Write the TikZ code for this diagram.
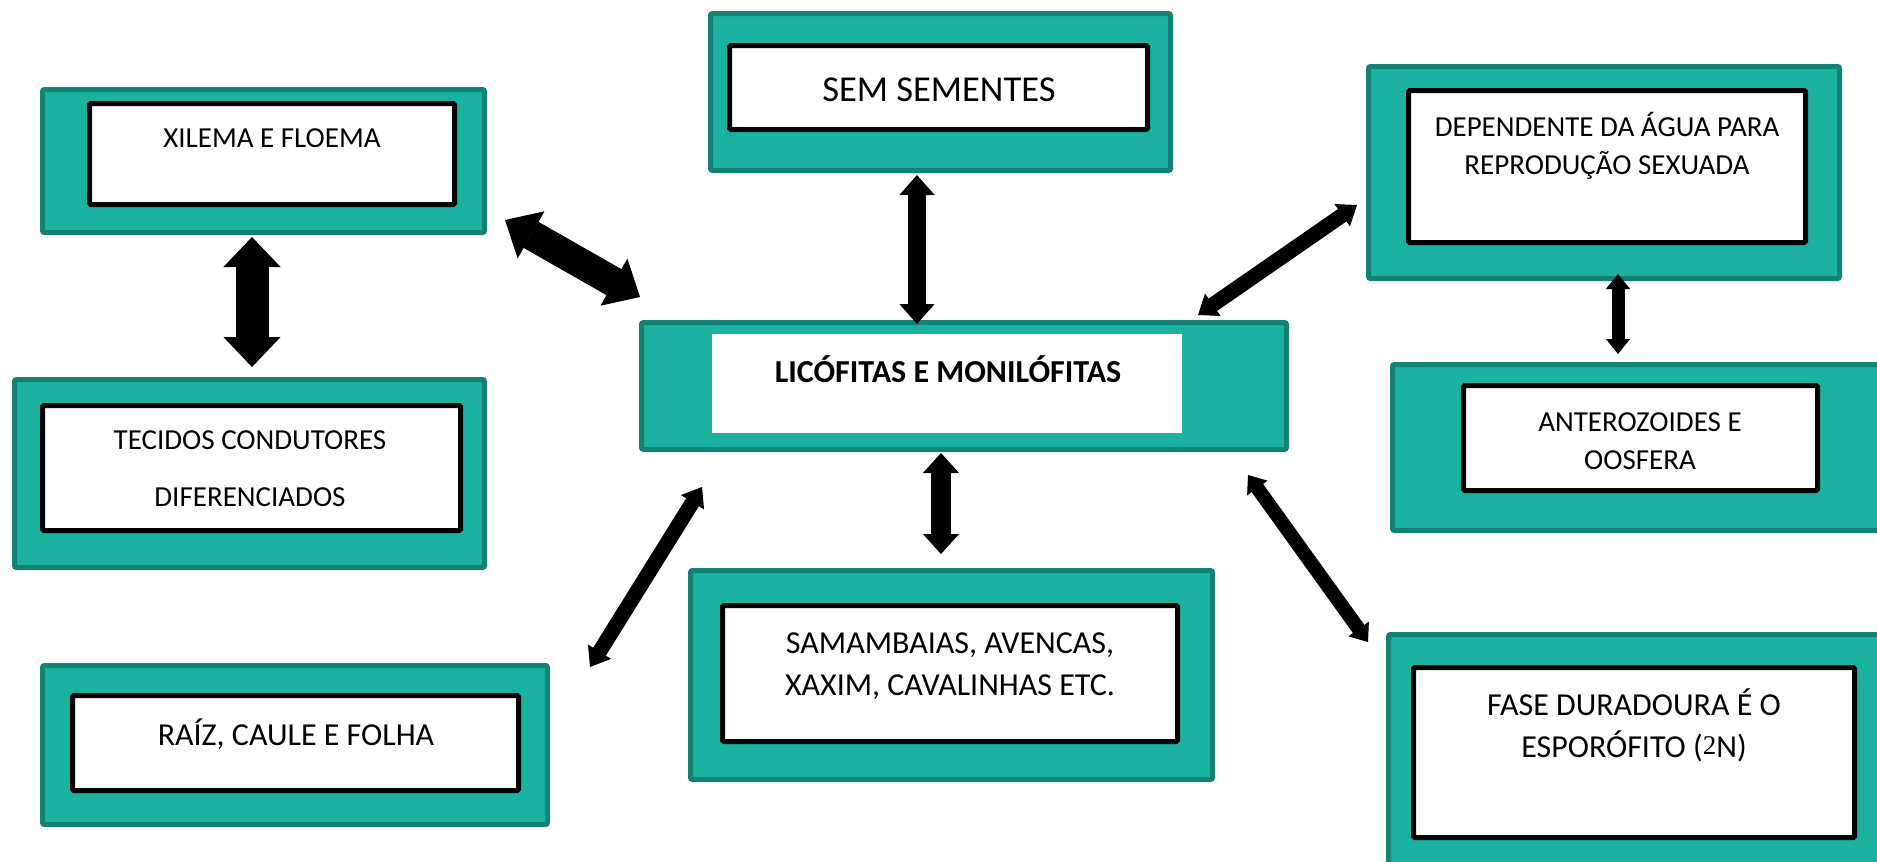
\documentclass[tikz,border=0pt]{standalone}
\usepackage{fontspec}
\setmainfont{Carlito}
\newfontfamily\serfont{Liberation Serif}
\usetikzlibrary{arrows.meta}
\definecolor{tealfill}{RGB}{27,179,159}
\definecolor{tealedge}{RGB}{20,130,115}
\tikzset{
  outerbox/.style={draw=tealedge, fill=tealfill, line width=5pt, rounded corners=2pt, inner sep=0pt},
  innerbox/.style={draw=black, fill=white, line width=5pt, rounded corners=1.5pt, inner sep=0pt},
  plainbox/.style={fill=white, inner sep=0pt},
  txt/.style={anchor=base, inner sep=0pt, font=\fontsize{29}{34}\selectfont},
  txtb/.style={anchor=base, inner sep=0pt, font=\fontsize{32}{38}\selectfont},
  conn/.style n args={3}{line width=#1, arrows={Triangle[width=#2,length=#3,line width=1pt]-Triangle[width=#2,length=#3,line width=1pt]}}
}
\begin{document}
\begin{tikzpicture}[x=1pt,y=-1pt]
\clip (0,0) rectangle (1877,862);
\fill[white] (0,0) rectangle (1877,862);

% XILEMA E FLOEMA
\node[outerbox, minimum width=442pt, minimum height=143pt] (xilO) at (263.5,161) {};
\node[innerbox, minimum width=365pt, minimum height=101pt] (xilI) at (272,154) {};
\node[txt] (xilT) at (272,147.3) {XILEMA E FLOEMA};

% TECIDOS CONDUTORES
\node[outerbox, minimum width=470pt, minimum height=188pt] (tecO) at (249.5,473.5) {};
\node[innerbox, minimum width=418pt, minimum height=125pt] (tecI) at (251.5,468) {};
\node[txt] (tecT1) at (250,449.3) {TECIDOS CONDUTORES};
\node[txt] (tecT2) at (250,506.3) {DIFERENCIADOS};

% RAIZ
\node[outerbox, minimum width=505pt, minimum height=159pt] (raiO) at (295,745) {};
\node[innerbox, minimum width=446pt, minimum height=95pt] (raiI) at (295.5,743) {};
\node[txtb] (raiT) at (296,745.3) {RAÍZ, CAULE E FOLHA};

% SEM SEMENTES
\node[outerbox, minimum width=460pt, minimum height=157pt] (semO) at (940.5,92) {};
\node[innerbox, minimum width=418pt, minimum height=84pt] (semI) at (938.5,87.5) {};
\node[anchor=base, inner sep=0pt, font=\fontsize{36.5}{42}\selectfont] (semT) at (939,101.8) {SEM SEMENTES};

% Central
\node[outerbox, minimum width=645pt, minimum height=127pt] (cenO) at (964,386) {};
\node[plainbox, minimum width=470pt, minimum height=99pt] (cenI) at (947,383.5) {};
\node[txtb, font=\fontsize{32}{38}\selectfont\bfseries] (cenT) at (948,382.3) {LICÓFITAS E MONILÓFITAS};

% SAMAMBAIAS
\node[outerbox, minimum width=522pt, minimum height=209pt] (samO) at (951.5,675) {};
\node[innerbox, minimum width=455pt, minimum height=136pt] (samI) at (950,673.5) {};
\node[txtb] (samT1) at (950,653.3) {SAMAMBAIAS, AVENCAS,};
\node[txtb] (samT2) at (950,695.3) {XAXIM, CAVALINHAS ETC.};

% DEPENDENTE
\node[outerbox, minimum width=471pt, minimum height=212pt] (depO) at (1604,172.5) {};
\node[innerbox, minimum width=397pt, minimum height=152pt] (depI) at (1607,166.5) {};
\node[txt] (depT1) at (1607,136.3) {DEPENDENTE DA ÁGUA PARA};
\node[txt] (depT2) at (1607,174.3) {REPRODUÇÃO SEXUADA};

% ANTEROZOIDES
\node[outerbox, minimum width=487pt, minimum height=166pt] (antO) at (1636,447.5) {};
\node[innerbox, minimum width=354pt, minimum height=105pt] (antI) at (1640.5,438) {};
\node[txt] (antT1) at (1640,431.3) {ANTEROZOIDES E};
\node[txt] (antT2) at (1640,469.3) {OOSFERA};

% FASE DURADOURA
\node[outerbox, minimum width=491pt, minimum height=238pt] (fasO) at (1634,753.5) {};
\node[innerbox, minimum width=441pt, minimum height=170pt] (fasI) at (1634,752.5) {};
\node[txtb] (fasT1) at (1634,715.3) {FASE DURADOURA É O};
\node[txtb] (fasT2) at (1634,757.3) {ESPORÓFITO ({\serfont\raisebox{3pt}{\fontsize{27}{30}\selectfont 2}}N)};

% connectors
\coordinate (a1s) at (252,237);  \coordinate (a1e) at (252,367);
\coordinate (a2s) at (505,220);  \coordinate (a2e) at (640,297);
\coordinate (a3s) at (917,175);  \coordinate (a3e) at (917,324);
\coordinate (a4s) at (1357,205); \coordinate (a4e) at (1198,315);
\coordinate (a5s) at (1618,274); \coordinate (a5e) at (1618,354);
\coordinate (a6s) at (702,487);  \coordinate (a6e) at (590,667);
\coordinate (a7s) at (941,453);  \coordinate (a7e) at (941,554);
\coordinate (a8s) at (1248,475); \coordinate (a8e) at (1368,642);

\draw[conn={33pt}{57pt}{30pt}] (a1s) -- (a1e);
\draw[conn={30pt}{54pt}{30pt}] (a2s) -- (a2e);
\draw[conn={18pt}{35pt}{20pt}] (a3s) -- (a3e);
\draw[conn={15pt}{27pt}{18pt}] (a4s) -- (a4e);
\draw[conn={13pt}{24pt}{15pt}] (a5s) -- (a5e);
\draw[conn={15pt}{27pt}{18pt}] (a6s) -- (a6e);
\draw[conn={20pt}{36pt}{20pt}] (a7s) -- (a7e);
\draw[conn={14pt}{25pt}{16pt}] (a8s) -- (a8e);
\end{tikzpicture}
\end{document}
